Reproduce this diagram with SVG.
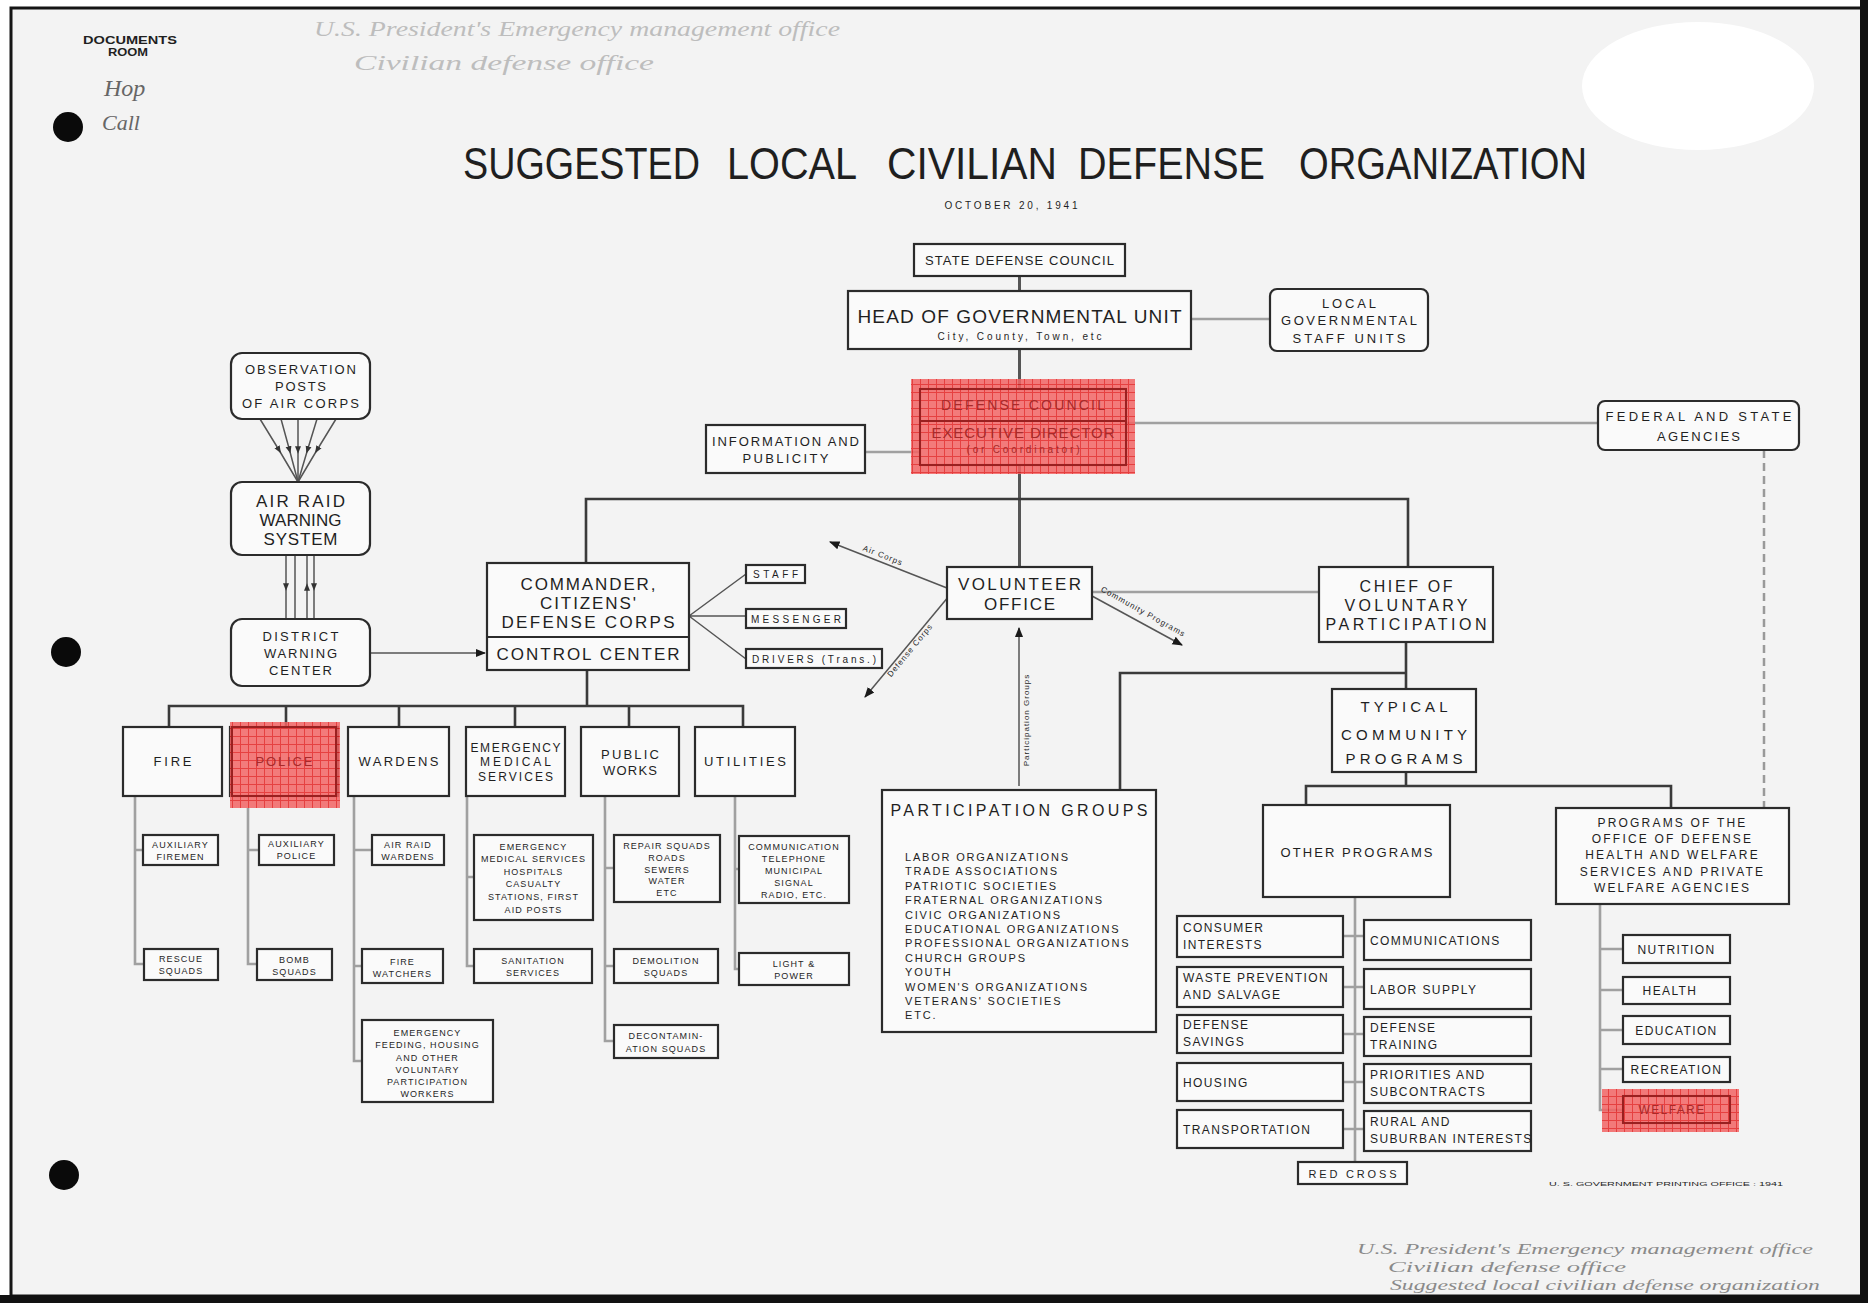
<svg xmlns="http://www.w3.org/2000/svg" width="1868" height="1303" viewBox="0 0 1868 1303">
<style>
.bx{fill:#fafafa;stroke:#2b2b2b;stroke-width:2.2}
.t{font-family:"Liberation Sans",Arial,sans-serif;fill:#1f1f1f;text-anchor:middle}
.l{font-family:"Liberation Sans",Arial,sans-serif;fill:#1f1f1f;text-anchor:start}
.s9{font-size:9px;letter-spacing:1.1px}
.s12{font-size:12px;letter-spacing:1.4px}
.ln{stroke:#3a3a3a;stroke-width:2.6;fill:none}
.lm{stroke:#555;stroke-width:3;fill:none}
.lt{stroke:#a0a0a0;stroke-width:2.6;fill:none}
.th{stroke:#555;stroke-width:1.5;fill:none}
.hw{font-family:"Liberation Serif","DejaVu Serif",serif;font-style:italic}
.red{fill:url(#redgrid);opacity:0.85}
.rt{fill:#a82a2a}
</style>
<defs>
<pattern id="redgrid" width="8" height="8" patternUnits="userSpaceOnUse"><rect width="8" height="8" fill="#f26464"/><path d="M0 0.5H8M0.5 0V8" stroke="#e32020" stroke-width="1"/></pattern>
<marker id="ah" viewBox="0 0 10 10" refX="9" refY="5" markerWidth="7" markerHeight="7" orient="auto"><path d="M0,1 L10,5 L0,9 z" fill="#1a1a1a"/></marker>
<marker id="am" viewBox="0 0 10 10" refX="5" refY="5" markerWidth="5" markerHeight="5" orient="auto"><path d="M0,1 L10,5 L0,9 z" fill="#333"/></marker>
</defs>
<rect x="0" y="0" width="1868" height="1303" fill="#ffffff"/>
<rect x="11" y="8" width="1852" height="1288" fill="#f3f3f3" stroke="#151515" stroke-width="3"/>
<rect x="1860" y="0" width="8" height="1303" fill="#111"/>
<rect x="0" y="1295" width="1868" height="8" fill="#111"/>
<ellipse cx="1698" cy="86" rx="116" ry="64" fill="#ffffff"/>
<circle cx="68" cy="127" r="15" fill="#0a0a0a"/>
<circle cx="66" cy="652" r="15" fill="#0a0a0a"/>
<circle cx="64" cy="1175" r="15" fill="#0a0a0a"/>

<g id="annotations">
<text class="t" x="130" y="44" font-size="10" font-weight="bold" textLength="94" lengthAdjust="spacingAndGlyphs">DOCUMENTS</text>
<text class="t" x="128" y="56" font-size="10" font-weight="bold" textLength="40" lengthAdjust="spacingAndGlyphs">ROOM</text>
<text class="hw" x="104" y="96" font-size="24" fill="#666">Hop</text>
<text class="hw" x="102" y="130" font-size="22" fill="#666">Call</text>
<text class="hw" x="314" y="36" font-size="20" fill="#bdbdbd" textLength="526" lengthAdjust="spacingAndGlyphs">U.S. President's Emergency management office</text>
<text class="hw" x="354" y="70" font-size="20" fill="#bdbdbd" textLength="300" lengthAdjust="spacingAndGlyphs">Civilian defense office</text>
<text class="hw" x="1357" y="1254" font-size="15" fill="#8a8a8a" textLength="456" lengthAdjust="spacingAndGlyphs">U.S. President's Emergency management office</text>
<text class="hw" x="1388" y="1272" font-size="15" fill="#8a8a8a" textLength="238" lengthAdjust="spacingAndGlyphs">Civilian defense office</text>
<text class="hw" x="1390" y="1290" font-size="15" fill="#8a8a8a" textLength="430" lengthAdjust="spacingAndGlyphs">Suggested local civilian defense organization</text>
<text class="t" x="1666" y="1186" font-size="6" fill="#444" textLength="234" lengthAdjust="spacingAndGlyphs">U. S. GOVERNMENT PRINTING OFFICE : 1941</text>
</g>

<g id="title">
<text class="l" y="179" font-size="44" fill="#1a1a1a"><tspan x="463" textLength="237" lengthAdjust="spacingAndGlyphs">SUGGESTED</tspan><tspan x="727" textLength="130" lengthAdjust="spacingAndGlyphs">LOCAL</tspan><tspan x="887" textLength="170" lengthAdjust="spacingAndGlyphs">CIVILIAN</tspan><tspan x="1078" textLength="187" lengthAdjust="spacingAndGlyphs">DEFENSE</tspan><tspan x="1299" textLength="288" lengthAdjust="spacingAndGlyphs">ORGANIZATION</tspan></text>
<text class="t" x="1011" y="209" font-size="10" textLength="133">OCTOBER 20, 1941</text>
</g>

<g id="connectors">
<path class="lm" d="M1019.5 276V291M1019.5 349V389M1019.5 465V567"/>
<path class="lt" d="M1191 319H1270M865 452H920M1126 423H1598M1092 592H1319"/>
<path d="M1764 450V808" stroke="#999" stroke-width="2.5" stroke-dasharray="8 5" fill="none"/>
<path class="ln" d="M586 563V499H1408V567"/>
<path class="th" d="M689 616L746 574M689 616H746M689 616L746 659"/>
<path class="ln" d="M1406 642V689M1120 790V673H1406M1406 772V786M1306 805V786H1671V808"/>
<path class="lt" d="M1355 897V1162M1343 936H1364M1343 987H1364M1343 1034H1364M1343 1082H1364M1343 1129H1364"/>
<path class="lt" d="M1600 904V1110H1623M1600 949H1623M1600 990H1623M1600 1030H1623M1600 1069H1623"/>
<polyline class="th" points="260,419 279,450 298,482" marker-mid="url(#am)"/>
<polyline class="th" points="281,419 289.5,450 298,482" marker-mid="url(#am)"/>
<polyline class="th" points="298,419 298,450 298,482" marker-mid="url(#am)"/>
<polyline class="th" points="317,419 307.5,450 298,482" marker-mid="url(#am)"/>
<polyline class="th" points="336,419 317,450 298,482" marker-mid="url(#am)"/>
<polyline class="th" points="286,555 286,587 286,619" marker-mid="url(#am)"/>
<polyline class="th" points="295,555 295,587 295,619"/>
<polyline class="th" points="307,619 307,587 307,555" marker-mid="url(#am)"/>
<polyline class="th" points="314,555 314,587 314,619" marker-mid="url(#am)"/>
<path class="th" d="M370 653H485" marker-end="url(#ah)"/>
<path class="ln" d="M587 670V706M169 727V706H743V727M286 706V727M399 706V727M515 706V727M629 706V727"/>
<path class="lt" d="M135 796V964H144M135 850H143M248 808V964H257M248 850H259M354 796V1061H362M354 850H372M354 966H362M467 796V966H474M467 877H474M605 796V1041H614M605 868H614M605 966H614M735 796V969H739M735 869H739"/>
<path class="th" d="M947 588L830 542" marker-end="url(#ah)"/>
<path class="th" d="M949 596L865 697" marker-end="url(#ah)"/>
<path class="th" d="M1092 596L1182 645" marker-end="url(#ah)"/>
<path class="th" d="M1019 786V628" marker-end="url(#ah)"/>
<text class="t" font-size="8" fill="#333" letter-spacing="1" transform="translate(882 558) rotate(21.5)">Air Corps</text>
<text class="t" font-size="8" fill="#333" letter-spacing="1" transform="translate(912 652) rotate(-50.5)">Defense Corps</text>
<text class="t" font-size="8" fill="#333" letter-spacing="1" transform="translate(1142 614) rotate(29)">Community Programs</text>
<text class="t" font-size="8" fill="#333" letter-spacing="1" transform="translate(1029 720) rotate(-90)">Participation Groups</text>
</g>

<g id="n-state"><rect class="bx" x="914" y="244" width="211" height="32"/><text class="t" x="1019.5" y="265" font-size="13" textLength="189">STATE DEFENSE COUNCIL</text></g>
<g id="n-head"><rect class="bx" x="848" y="291" width="343" height="58"/><text class="t" x="1019.5" y="323" font-size="19" textLength="324">HEAD OF GOVERNMENTAL UNIT</text><text class="t" x="1019.5" y="340" font-size="10" textLength="164">City, County, Town, etc</text></g>
<g id="n-local"><rect class="bx" x="1270" y="289" width="158" height="62" rx="7"/><text class="t" x="1349" y="308" font-size="13" textLength="54">LOCAL</text><text class="t" x="1349" y="325" font-size="13" textLength="136">GOVERNMENTAL</text><text class="t" x="1349" y="343" font-size="13" textLength="113">STAFF UNITS</text></g>
<g id="n-council"><rect class="bx" x="920" y="389" width="206" height="76"/><rect class="red" x="911" y="379" width="224" height="95"/><path d="M920 389H1126V465H920Z M920 421H1126" stroke="#9a2020" stroke-width="2" fill="none"/><text class="t rt" x="1023" y="410" font-size="14" textLength="164">DEFENSE COUNCIL</text><text class="t rt" x="1023" y="438" font-size="15" textLength="183">EXECUTIVE DIRECTOR</text><text class="t rt" x="1023" y="453" font-size="10" textLength="113">(or Coordinator)</text></g>
<g id="n-info"><rect class="bx" x="706" y="425" width="159" height="48"/><text class="t" x="785.5" y="446" font-size="13" textLength="147">INFORMATION AND</text><text class="t" x="785.5" y="463" font-size="13" textLength="86">PUBLICITY</text></g>
<g id="n-federal"><rect class="bx" x="1598" y="401" width="201" height="49" rx="7"/><text class="t" x="1698.5" y="421" font-size="13" textLength="186">FEDERAL AND STATE</text><text class="t" x="1698.5" y="441" font-size="13" textLength="83">AGENCIES</text></g>
<g id="n-volunteer"><rect class="bx" x="947" y="567" width="145" height="52"/><text class="t" x="1019.5" y="590" font-size="17" textLength="123">VOLUNTEER</text><text class="t" x="1019.5" y="610" font-size="17" textLength="71">OFFICE</text></g>
<g id="n-chief"><rect class="bx" x="1319" y="567" width="174" height="75"/><text class="t" x="1406" y="592" font-size="16" textLength="93">CHIEF OF</text><text class="t" x="1406" y="611" font-size="16" textLength="123">VOLUNTARY</text><text class="t" x="1406" y="630" font-size="16" textLength="161">PARTICIPATION</text></g>
<g id="n-commander"><rect class="bx" x="487" y="563" width="202" height="107"/><path d="M487 637H689" stroke="#2b2b2b" stroke-width="1.8"/><text class="t" x="588" y="590" font-size="17" textLength="135">COMMANDER,</text><text class="t" x="588" y="609" font-size="17" textLength="96">CITIZENS'</text><text class="t" x="588" y="628" font-size="17" textLength="173">DEFENSE CORPS</text><text class="t" x="588" y="660" font-size="17" textLength="183">CONTROL CENTER</text></g>
<g id="n-staff"><rect class="bx" x="746" y="565" width="59" height="18"/><text class="t" x="775.5" y="578" font-size="10" textLength="45">STAFF</text></g>
<g id="n-messenger"><rect class="bx" x="746" y="609" width="100" height="19"/><text class="t" x="796" y="622.5" font-size="10" textLength="90">MESSENGER</text></g>
<g id="n-drivers"><rect class="bx" x="746" y="649" width="136" height="19"/><text class="t" x="814" y="662.5" font-size="10" textLength="124">DRIVERS (Trans.)</text></g>
<g id="n-observation"><rect class="bx" x="231" y="353" width="139" height="66" rx="11"/><text class="t" x="300.5" y="374" font-size="13" textLength="111">OBSERVATION</text><text class="t" x="300.5" y="391" font-size="13" textLength="51">POSTS</text><text class="t" x="300.5" y="408" font-size="13" textLength="117">OF AIR CORPS</text></g>
<g id="n-airraid"><rect class="bx" x="231" y="482" width="139" height="73" rx="11"/><text class="t" x="300.5" y="507" font-size="17" textLength="89">AIR RAID</text><text class="t" x="300.5" y="526" font-size="17" textLength="82">WARNING</text><text class="t" x="300.5" y="545" font-size="17" textLength="74">SYSTEM</text></g>
<g id="n-district"><rect class="bx" x="231" y="619" width="139" height="67" rx="11"/><text class="t" x="300.5" y="641" font-size="13" textLength="76">DISTRICT</text><text class="t" x="300.5" y="658" font-size="13" textLength="73">WARNING</text><text class="t" x="300.5" y="675" font-size="13" textLength="63">CENTER</text></g>

<g id="n-fire"><rect class="bx" x="123" y="727" width="99" height="69"/><text class="t" x="172.5" y="766" font-size="13" textLength="38">FIRE</text></g>
<g id="n-police"><rect class="bx" x="230" y="727" width="108" height="69"/><rect class="red" x="230" y="722" width="110" height="86"/><path d="M232 727H336V796H232Z" stroke="#9a2020" stroke-width="2" fill="none"/><text class="t rt" x="284" y="766" font-size="13" textLength="57">POLICE</text></g>
<g id="n-wardens"><rect class="bx" x="348" y="727" width="101" height="69"/><text class="t" x="398.5" y="766" font-size="13" textLength="80">WARDENS</text></g>
<g id="n-ems"><rect class="bx" x="466" y="727" width="99" height="69"/><text class="t" x="515.5" y="752" font-size="12" textLength="90">EMERGENCY</text><text class="t" x="515.5" y="766" font-size="12" textLength="71">MEDICAL</text><text class="t" x="515.5" y="781" font-size="12" textLength="75">SERVICES</text></g>
<g id="n-publicworks"><rect class="bx" x="581" y="727" width="98" height="69"/><text class="t" x="630" y="759" font-size="13" textLength="58">PUBLIC</text><text class="t" x="630" y="775" font-size="13" textLength="54">WORKS</text></g>
<g id="n-utilities"><rect class="bx" x="695" y="727" width="100" height="69"/><text class="t" x="745" y="766" font-size="13" textLength="82">UTILITIES</text></g>

<g id="n-auxfire"><rect class="bx" x="143" y="835" width="75" height="30"/><text class="t s9" x="180.5" y="848">AUXILIARY</text><text class="t s9" x="180.5" y="860">FIREMEN</text></g>
<g id="n-rescue"><rect class="bx" x="144" y="949" width="74" height="31"/><text class="t s9" x="181" y="962">RESCUE</text><text class="t s9" x="181" y="974">SQUADS</text></g>
<g id="n-auxpolice"><rect class="bx" x="259" y="835" width="75" height="30"/><text class="t s9" x="296.5" y="847">AUXILIARY</text><text class="t s9" x="296.5" y="859">POLICE</text></g>
<g id="n-bomb"><rect class="bx" x="257" y="949" width="75" height="31"/><text class="t s9" x="294.5" y="963">BOMB</text><text class="t s9" x="294.5" y="975">SQUADS</text></g>
<g id="n-airraidwardens"><rect class="bx" x="372" y="835" width="72" height="30"/><text class="t s9" x="408" y="848">AIR RAID</text><text class="t s9" x="408" y="860">WARDENS</text></g>
<g id="n-firewatchers"><rect class="bx" x="362" y="949" width="81" height="34"/><text class="t s9" x="402.5" y="965">FIRE</text><text class="t s9" x="402.5" y="977">WATCHERS</text></g>
<g id="n-feeding"><rect class="bx" x="362" y="1020" width="131" height="82"/><text class="t s9" x="427.5" y="1036">EMERGENCY</text><text class="t s9" x="427.5" y="1048">FEEDING, HOUSING</text><text class="t s9" x="427.5" y="1061">AND OTHER</text><text class="t s9" x="427.5" y="1073">VOLUNTARY</text><text class="t s9" x="427.5" y="1085">PARTICIPATION</text><text class="t s9" x="427.5" y="1097">WORKERS</text></g>
<g id="n-emssub"><rect class="bx" x="474" y="835" width="119" height="85"/><text class="t s9" x="533.5" y="850">EMERGENCY</text><text class="t s9" x="533.5" y="862">MEDICAL SERVICES</text><text class="t s9" x="533.5" y="875">HOSPITALS</text><text class="t s9" x="533.5" y="887">CASUALTY</text><text class="t s9" x="533.5" y="900">STATIONS, FIRST</text><text class="t s9" x="533.5" y="913">AID POSTS</text></g>
<g id="n-sanitation"><rect class="bx" x="474" y="949" width="118" height="34"/><text class="t s9" x="533" y="964">SANITATION</text><text class="t s9" x="533" y="976">SERVICES</text></g>
<g id="n-repair"><rect class="bx" x="614" y="835" width="106" height="67"/><text class="t s9" x="667" y="849">REPAIR SQUADS</text><text class="t s9" x="667" y="861">ROADS</text><text class="t s9" x="667" y="873">SEWERS</text><text class="t s9" x="667" y="884">WATER</text><text class="t s9" x="667" y="896">ETC</text></g>
<g id="n-demolition"><rect class="bx" x="614" y="949" width="104" height="34"/><text class="t s9" x="666" y="964">DEMOLITION</text><text class="t s9" x="666" y="976">SQUADS</text></g>
<g id="n-decontamination"><rect class="bx" x="614" y="1025" width="104" height="33"/><text class="t s9" x="666" y="1039">DECONTAMIN-</text><text class="t s9" x="666" y="1052">ATION SQUADS</text></g>
<g id="n-communication"><rect class="bx" x="739" y="836" width="110" height="67"/><text class="t s9" x="794" y="850">COMMUNICATION</text><text class="t s9" x="794" y="862">TELEPHONE</text><text class="t s9" x="794" y="874">MUNICIPAL</text><text class="t s9" x="794" y="886">SIGNAL</text><text class="t s9" x="794" y="898">RADIO, ETC.</text></g>
<g id="n-lightpower"><rect class="bx" x="739" y="953" width="110" height="32"/><text class="t s9" x="794" y="967">LIGHT &amp;</text><text class="t s9" x="794" y="979">POWER</text></g>

<g id="n-participation"><rect class="bx" x="882" y="790" width="274" height="242"/><text class="t" x="1019" y="816" font-size="16" textLength="257">PARTICIPATION GROUPS</text>
<g class="l" font-size="11" letter-spacing="1.8" fill="#333"><text x="905" y="861">LABOR ORGANIZATIONS</text><text x="905" y="875.4">TRADE ASSOCIATIONS</text><text x="905" y="889.8">PATRIOTIC SOCIETIES</text><text x="905" y="904.2">FRATERNAL ORGANIZATIONS</text><text x="905" y="918.6">CIVIC ORGANIZATIONS</text><text x="905" y="933">EDUCATIONAL ORGANIZATIONS</text><text x="905" y="947.4">PROFESSIONAL ORGANIZATIONS</text><text x="905" y="961.8">CHURCH GROUPS</text><text x="905" y="976.2">YOUTH</text><text x="905" y="990.6">WOMEN'S ORGANIZATIONS</text><text x="905" y="1005">VETERANS' SOCIETIES</text><text x="905" y="1019.4">ETC.</text></g></g>

<g id="n-typical"><rect class="bx" x="1332" y="689" width="144" height="83"/><text class="t" x="1404" y="712" font-size="15" textLength="87">TYPICAL</text><text class="t" x="1404" y="740" font-size="15" textLength="126">COMMUNITY</text><text class="t" x="1404" y="764" font-size="15" textLength="117">PROGRAMS</text></g>
<g id="n-other"><rect class="bx" x="1263" y="805" width="187" height="92"/><text class="t" x="1356.5" y="857" font-size="13" textLength="152">OTHER PROGRAMS</text></g>
<g id="n-consumer"><rect class="bx" x="1177" y="916" width="166" height="41"/><text class="l s12" x="1183" y="932">CONSUMER</text><text class="l s12" x="1183" y="949">INTERESTS</text></g>
<g id="n-waste"><rect class="bx" x="1177" y="967" width="166" height="40"/><text class="l s12" x="1183" y="982">WASTE PREVENTION</text><text class="l s12" x="1183" y="999">AND SALVAGE</text></g>
<g id="n-savings"><rect class="bx" x="1177" y="1015" width="166" height="38"/><text class="l s12" x="1183" y="1029">DEFENSE</text><text class="l s12" x="1183" y="1046">SAVINGS</text></g>
<g id="n-housing"><rect class="bx" x="1177" y="1063" width="166" height="38"/><text class="l s12" x="1183" y="1087">HOUSING</text></g>
<g id="n-transportation"><rect class="bx" x="1177" y="1110" width="166" height="38"/><text class="l s12" x="1183" y="1134">TRANSPORTATION</text></g>
<g id="n-communications"><rect class="bx" x="1364" y="920" width="167" height="40"/><text class="l s12" x="1370" y="945">COMMUNICATIONS</text></g>
<g id="n-labor"><rect class="bx" x="1364" y="969" width="167" height="40"/><text class="l s12" x="1370" y="994">LABOR SUPPLY</text></g>
<g id="n-training"><rect class="bx" x="1364" y="1017" width="167" height="39"/><text class="l s12" x="1370" y="1032">DEFENSE</text><text class="l s12" x="1370" y="1049">TRAINING</text></g>
<g id="n-priorities"><rect class="bx" x="1364" y="1064" width="167" height="39"/><text class="l s12" x="1370" y="1079">PRIORITIES AND</text><text class="l s12" x="1370" y="1096">SUBCONTRACTS</text></g>
<g id="n-rural"><rect class="bx" x="1364" y="1111" width="167" height="40"/><text class="l s12" x="1370" y="1126">RURAL AND</text><text class="l s12" x="1370" y="1143">SUBURBAN INTERESTS</text></g>
<g id="n-redcross"><rect class="bx" x="1298" y="1162" width="109" height="22"/><text class="t" x="1352.5" y="1178" font-size="11" textLength="88">RED CROSS</text></g>

<g id="n-programs"><rect class="bx" x="1556" y="808" width="233" height="96"/><g font-size="12" letter-spacing="2.2"><text class="t" x="1672.5" y="827">PROGRAMS OF THE</text><text class="t" x="1672.5" y="843">OFFICE OF DEFENSE</text><text class="t" x="1672.5" y="859">HEALTH AND WELFARE</text><text class="t" x="1672.5" y="876">SERVICES AND PRIVATE</text><text class="t" x="1672.5" y="892">WELFARE AGENCIES</text></g></g>
<g id="n-nutrition"><rect class="bx" x="1623" y="935" width="107" height="28"/><text class="t s12" x="1676.5" y="954">NUTRITION</text></g>
<g id="n-health"><rect class="bx" x="1623" y="977" width="107" height="27"/><text class="t s12" x="1670" y="995">HEALTH</text></g>
<g id="n-education"><rect class="bx" x="1623" y="1016" width="107" height="28"/><text class="t s12" x="1676.5" y="1035">EDUCATION</text></g>
<g id="n-recreation"><rect class="bx" x="1623" y="1057" width="107" height="25"/><text class="t s12" x="1676.5" y="1074">RECREATION</text></g>
<g id="n-welfare"><rect class="bx" x="1623" y="1096" width="107" height="27"/><rect class="red" x="1602" y="1089" width="137" height="43"/><path d="M1623 1096H1730V1123H1623Z" stroke="#9a2020" stroke-width="2" fill="none"/><text class="t s12 rt" x="1672" y="1114">WELFARE</text></g>
</svg>
